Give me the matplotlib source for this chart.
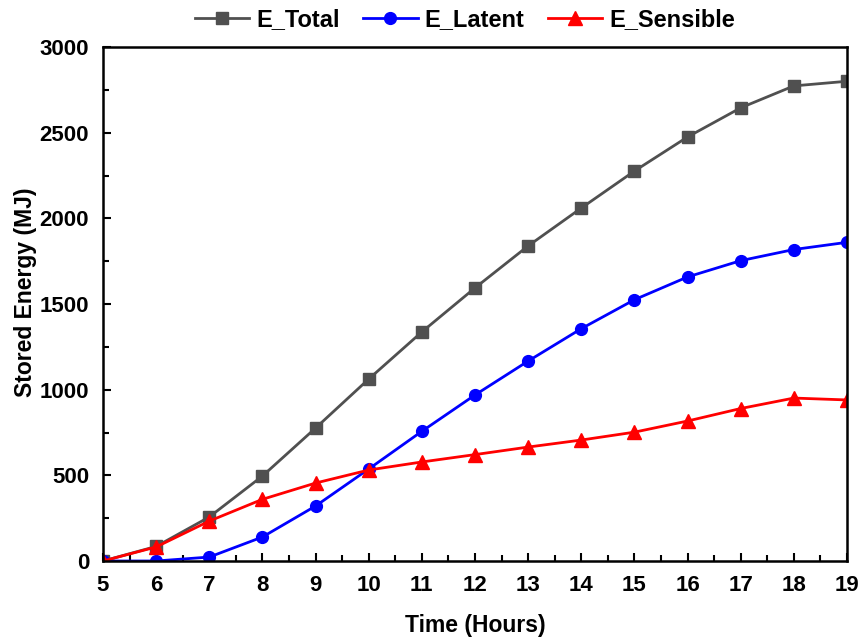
import matplotlib
matplotlib.use("Agg")
import matplotlib.pyplot as plt
from matplotlib.ticker import MultipleLocator

plt.rcParams['font.family'] = ['Liberation Sans', 'DejaVu Sans']
plt.rcParams['font.weight'] = 'bold'

hours = [5, 6, 7, 8, 9, 10, 11, 12, 13, 14, 15, 16, 17, 18, 19]
e_total = [0, 85, 257, 496, 776, 1062, 1337, 1594, 1839, 2060, 2276, 2475, 2645, 2773, 2800]
e_latent = [0, 0, 23, 140, 321, 537, 757, 969, 1167, 1356, 1525, 1658, 1753, 1818, 1860]
e_sensible = [0, 82, 233, 360, 455, 531, 578, 621, 665, 706, 752, 817, 890, 951, 940]

fig = plt.figure(figsize=(8.61, 6.37), dpi=100)
ax = fig.add_axes([103/861, 1 - 561/637, 744/861, 514/637])

ax.plot(hours, e_total, color='#505050', marker='s', markersize=8, lw=2, label='E_Total')
ax.plot(hours, e_latent, color='#0000ff', marker='o', markersize=8.5, lw=2, label='E_Latent')
ax.plot(hours, e_sensible, color='#ff0000', marker='^', markersize=10, lw=2, label='E_Sensible')

ax.set_xlim(5, 19)
ax.set_ylim(0, 3000)
ax.xaxis.set_major_locator(MultipleLocator(1))
ax.xaxis.set_minor_locator(MultipleLocator(0.5))
ax.yaxis.set_major_locator(MultipleLocator(500))
ax.yaxis.set_minor_locator(MultipleLocator(250))
ax.tick_params(which='both', direction='in', width=1.5)
ax.tick_params(which='major', length=6)
ax.tick_params(which='minor', length=4)
ax.tick_params(axis='x', pad=10)
ax.tick_params(axis='y', pad=10)
for lab in ax.get_xticklabels() + ax.get_yticklabels():
    lab.set_fontweight('bold')
    lab.set_fontsize(16)
for s in ax.spines.values():
    s.set_linewidth(1.8)

ax.set_xlabel('Time (Hours)', fontsize=16.5, fontweight='bold', labelpad=13)
fig.text(26/861, 1 - 292/637, 'Stored Energy (MJ)', rotation=90, ha='center', va='center',
         fontsize=16.5, fontweight='bold')

fig.legend(loc='center', bbox_to_anchor=(465/861, 1 - 20/637), ncol=3, frameon=False,
           prop={'size': 17, 'weight': 'bold'}, handlelength=2.3, columnspacing=1.0,
           handletextpad=0.3)

fig.savefig('out.png', dpi=100)
